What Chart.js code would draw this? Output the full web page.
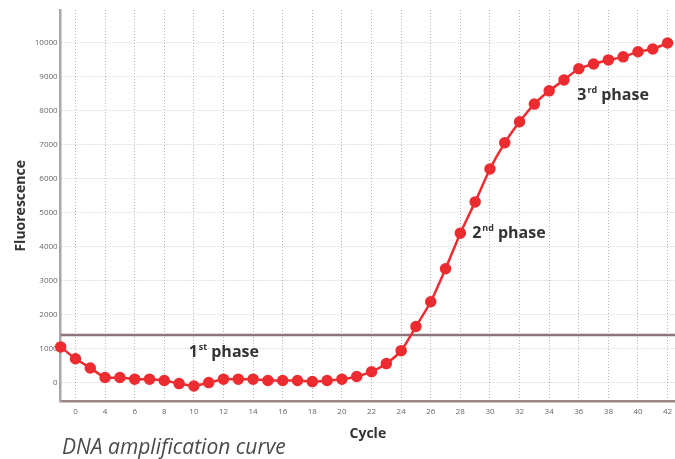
<!DOCTYPE html>
<html>
<head>
<meta charset="utf-8">
<script src="https://cdn.jsdelivr.net/npm/chart.js@4.4.1/dist/chart.umd.min.js"></script>
<style>
  html, body { margin: 0; padding: 0; background: #fff; }
  #wrap { width: 675px; height: 459px; position: relative; }
</style>
</head>
<body>
<div id="wrap"><canvas id="pcrChart"></canvas></div>
<script>
const cycles = [1, 2, 3, 4, 5, 6, 7, 8, 9, 10, 11, 12, 13, 14, 15, 16, 17, 18, 19, 20, 21,
  22, 23, 24, 25, 26, 27, 28, 29, 30, 31, 32, 33, 34, 35, 36, 37, 38, 39, 40, 41, 42];
const fluorescence = [1050, 700, 430, 150, 150, 100, 100, 60, -30, -100, 0, 100, 100, 100, 60, 60, 60, 30, 60, 100, 180,
  320, 560, 940, 1650, 2380, 3350, 4400, 5320, 6290, 7060, 7680, 8200, 8590, 8910, 9240, 9380, 9500, 9590, 9740, 9820, 10000];
const threshold = 1400;

const xTicks = [2, 4, 6, 8, 10, 12, 14, 16, 18, 20, 22, 24, 26, 28, 30, 32, 34, 36, 38, 40, 42];
const xTickLabels = ['0', '4', '6', '8', '10', '12', '14', '16', '18', '20', '22', '24', '26', '28', '30', '32', '34', '36', '38', '40', '42'];
const yTicks = [0, 1000, 2000, 3000, 4000, 5000, 6000, 7000, 8000, 9000, 10000];

const phases = [
  { num: '1', sup: 'st', x: 9.65, y: 880 },
  { num: '2', sup: 'nd', x: 28.8, y: 4380 },
  { num: '3', sup: 'rd', x: 35.9, y: 8440 }
];

const extras = {
  id: 'extras',
  beforeDatasetsDraw(chart) {
    const { ctx, chartArea, scales } = chart;
    const y = scales.y.getPixelForValue(threshold);
    ctx.save();
    ctx.strokeStyle = '#8e7479';
    ctx.lineWidth = 2.5;
    ctx.beginPath();
    ctx.moveTo(chartArea.left, y);
    ctx.lineTo(chartArea.right, y);
    ctx.stroke();
    ctx.restore();
  },
  afterDraw(chart) {
    const { ctx, scales } = chart;
    ctx.save();
    ctx.fillStyle = '#333';
    ctx.textBaseline = 'middle';
    phases.forEach(p => {
      let px = scales.x.getPixelForValue(p.x);
      const py = scales.y.getPixelForValue(p.y);
      ctx.font = 'bold 16px "Open Sans"';
      ctx.fillText(p.num, px, py);
      px += ctx.measureText(p.num).width + 1;
      ctx.font = 'bold 9px "Open Sans"';
      ctx.fillText(p.sup, px, py - 5);
      px += ctx.measureText(p.sup).width + 4;
      ctx.font = 'bold 16px "Open Sans"';
      ctx.fillText('phase', px, py);
    });
    ctx.fillStyle = '#4a4a4a';
    ctx.font = 'italic 21px "Open Sans"';
    ctx.textBaseline = 'alphabetic';
    ctx.fillText('DNA amplification curve', 62, 454);
    ctx.restore();
  }
};

new Chart(document.getElementById('pcrChart'), {
  type: 'line',
  data: {
    datasets: [{
      data: cycles.map((c, i) => ({ x: c, y: fluorescence[i] })),
      borderColor: '#ec2c30',
      backgroundColor: '#ec2c30',
      borderWidth: 2.5,
      pointRadius: 4.5,
      pointHoverRadius: 4.5,
      tension: 0.2,
      clip: false
    }]
  },
  plugins: [extras],
  options: {
    responsive: true,
    maintainAspectRatio: false,
    animation: false,
    layout: { autoPadding: false, padding: { left: 13, right: 0, top: 10, bottom: 17 } },
    plugins: { legend: { display: false }, tooltip: { enabled: false } },
    scales: {
      x: {
        type: 'linear',
        min: 1,
        max: 42.5,
        afterBuildTicks: scale => { scale.ticks = xTicks.map(v => ({ value: v })); },
        afterFit: scale => { scale.paddingRight = 0; scale.paddingLeft = 0; },
        ticks: {
          autoSkip: false,
          maxRotation: 0,
          padding: 5,
          color: '#666',
          font: { family: 'Open Sans', size: 8 },
          callback: (v) => xTickLabels[xTicks.indexOf(v)]
        },
        grid: { color: 'rgba(130,130,130,0.6)', lineWidth: 1, drawTicks: false },
        border: { color: '#9c8585', width: 2.5, dash: [1, 2] },
        title: { display: true, text: 'Cycle', color: '#333', font: { family: 'Open Sans', size: 14, weight: 'bold' }, padding: { top: 4, bottom: 0 } }
      },
      y: {
        min: -560,
        max: 10970,
        afterBuildTicks: scale => { scale.ticks = yTicks.map(v => ({ value: v })); },
        ticks: {
          padding: 3,
          color: '#666',
          font: { family: 'Open Sans', size: 8 },
          callback: (v) => String(v)
        },
        grid: { color: 'rgba(190,150,150,0.6)', lineWidth: 1, drawTicks: false },
        border: { color: '#a8a8a8', width: 2.5, dash: [1, 2] },
        title: { display: true, text: 'Fluorescence', color: '#333', font: { family: 'Open Sans', size: 14, weight: 'bold' }, padding: { top: 0, bottom: 2 } }
      }
    }
  }
});
</script>
</body>
</html>
